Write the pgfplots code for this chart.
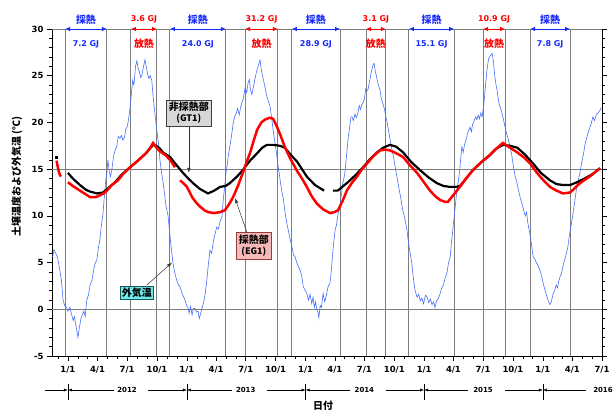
\documentclass[border=0pt]{standalone}
\usepackage{pgfplots}
\pgfplotsset{compat=1.18}
\usetikzlibrary{arrows.meta}
\usepackage{fontspec}
\setmainfont{DejaVu Sans}
\newfontfamily\jp{Noto Sans CJK JP}

\definecolor{airblue}{RGB}{70,110,250}
\definecolor{heatblue}{RGB}{20,40,255}
\definecolor{heatred}{RGB}{255,0,0}
\definecolor{gridgray}{RGB}{125,125,125}
\definecolor{boxgray}{RGB}{215,215,215}
\definecolor{boxpink}{RGB}{245,185,185}
\definecolor{boxcyan}{RGB}{110,232,232}
\definecolor{pinkedge}{RGB}{150,60,60}
\definecolor{cyanedge}{RGB}{20,90,90}

\tikzset{
  per/.style={line width=0.8pt,{Latex[length=5bp,width=4.5bp]}-{Latex[length=5bp,width=4.5bp]}},
  jplab/.style={font=\jp\bfseries\fontsize{10}{11}\selectfont},
  numlab/.style={font=\bfseries\fontsize{8}{9}\selectfont},
  yr/.style={line width=0.5pt,-{Latex[length=4bp,width=3bp]}},
  yrlab/.style={font=\bfseries\fontsize{7}{8}\selectfont},
}

\begin{document}
\begin{tikzpicture}
\useasboundingbox (-52bp,-58bp) rectangle (562bp,356bp);
\begin{axis}[
  at={(0,0)}, anchor=south west,
  scale only axis, width=550bp, height=327bp,
  xmin=-49, xmax=1643, ymin=-5, ymax=30,
  clip=false,
  axis x line*=bottom,
  ytick pos=both, yticklabel pos=left,
  tick align=outside,
  axis line style={black, line width=0.8pt},
  tick style={black, line width=0.6pt},
  major tick length=5bp, minor tick length=3bp,
  ytick={-5,0,5,10,15,20,25,30},
  minor y tick num=4,
  xtick={0,91,182,274,366,456,547,639,731,821,912,1004,1096,1186,1277,1369,1461,1552,1643},
  xticklabels={1/1,4/1,7/1,10/1,1/1,4/1,7/1,10/1,1/1,4/1,7/1,10/1,1/1,4/1,7/1,10/1,1/1,4/1,7/1},
  minor xtick={-31,31,60,121,152,213,244,305,335,397,425,486,517,578,609,670,700,762,790,851,882,943,974,1035,1065,1127,1155,1216,1247,1308,1339,1400,1430,1492,1521,1582,1613},
  tick label style={font=\bfseries\fontsize{8.5}{10}\selectfont},
  xticklabel style={yshift=-2bp},
  /pgf/number format/assume math mode=true,
  extra x ticks={-9,120,194,274,314,486,545,646,689,837,917,978,1049,1188,1277,1345,1422,1545},
  extra x tick labels={},
  extra x tick style={grid=major, major tick length=0pt, grid style={gridgray, line width=1pt}},
  extra y ticks={0,15,30},
  extra y tick labels={},
  extra y tick style={grid=major, major tick length=0pt, grid style={gridgray, line width=1pt}},
]

% outside air temperature
\addplot[airblue, line width=0.6pt] coordinates {
(-47,5.6) (-43,6.4) (-40,6.2) (-35,5.8) (-31,5.4) (-25,4.2) (-20,3.1) (-15,1.0) (-10,0.4) (-4,0.2)
(0,-0.2) (6,0.2) (11,-0.5) (16,-1.2) (20,-0.8) (25,-1.8) (31,-3.0) (35,-2.0) (40,-1.0) (44,-0.6)
(49,-0.2) (53,-0.8) (58,1.0) (63,1.5) (68,2.6) (74,3.1) (80,4.4) (85,5.0) (89,5.3) (94,6.6)
(98,7.4) (103,9.0) (108,10.3) (113,12.5) (117,14.0) (120,14.6) (123,16.0) (127,14.8) (131,14.2) (135,14.9)
(140,16.3) (145,17.0) (150,17.4) (155,18.5) (160,18.3) (165,18.6) (169,18.1) (174,18.4) (178,19.3) (182,19.5)
(186,20.2) (191,21.5) (195,23.0) (199,24.5) (203,24.0) (208,26.0) (212,26.6) (216,25.8) (220,25.4) (224,24.8)
(228,25.1) (232,25.9) (237,26.7) (241,26.0) (245,25.2) (249,24.7) (253,25.0) (258,24.5) (262,22.8) (266,21.5)
(270,20.2) (274,19.0) (279,17.6) (283,16.0) (288,14.6) (292,13.8) (297,12.4) (302,11.0) (308,10.0) (313,8.2)
(318,6.5) (323,5.0) (328,4.0) (334,3.2) (340,2.6) (345,2.4) (350,1.8) (355,1.4) (360,1.0) (365,0.4)
(369,0.2) (373,-0.4) (377,0.3) (382,-0.6) (386,0.1) (391,0.1) (395,-0.3) (400,-0.2) (404,-1.0) (408,-0.5)
(413,0.2) (418,0.8) (422,1.6) (427,3.0) (432,4.8) (437,6.3) (442,6.0) (447,7.2) (452,8.0) (458,8.8)
(463,8.6) (468,9.4) (474,9.9) (478,11.8) (482,13.0) (486,14.5) (490,15.5) (494,16.6) (498,17.4) (503,18.5)
(508,19.8) (513,20.6) (518,21.0) (522,21.5) (527,20.8) (531,21.6) (535,22.1) (540,22.6) (545,23.7) (550,23.2)
(554,24.2) (558,24.6) (562,23.4) (566,23.0) (570,23.7) (575,24.6) (580,25.4) (585,26.0) (591,26.7) (595,25.6)
(600,24.8) (606,23.8) (611,22.9) (617,22.2) (622,21.7) (627,20.4) (632,19.0) (638,17.6) (643,16.3) (648,15.0)
(653,13.8) (658,12.6) (662,12.0) (667,10.6) (672,9.5) (677,8.6) (683,7.6) (689,6.7) (694,5.8) (699,5.6)
(704,5.0) (709,4.6) (714,4.2) (719,3.6) (724,2.4) (729,2.1) (735,1.7) (740,1.0) (745,1.6) (750,0.6)
(754,1.3) (758,0.2) (762,0.8) (766,-0.1) (770,-0.4) (772,-0.9) (776,0.4) (780,0.2) (785,1.7) (790,0.8)
(795,1.5) (800,2.4) (806,2.8) (810,4.0) (815,6.2) (819,7.6) (822,8.5) (826,9.0) (831,10.2) (837,11.0)
(841,12.2) (845,13.4) (849,14.0) (852,14.6) (857,16.4) (862,18.3) (867,19.6) (871,20.6) (874,20.6) (878,20.2)
(883,20.9) (887,20.5) (892,21.0) (896,21.8) (900,21.4) (904,21.9) (908,22.1) (912,22.5) (916,23.6) (920,23.4)
(923,23.5) (927,24.2) (932,25.2) (936,25.8) (940,26.3) (942,26.3) (946,25.4) (950,24.8) (955,24.0) (960,23.5)
(964,22.6) (969,22.0) (974,21.4) (978,20.6) (982,20.0) (988,18.8) (994,17.6) (1000,16.6) (1006,15.4) (1012,14.2)
(1018,13.0) (1024,11.9) (1030,10.6) (1036,9.8) (1043,8.5) (1048,7.0) (1053,6.0) (1058,4.9) (1063,3.2) (1068,2.0)
(1074,1.3) (1079,1.6) (1084,0.9) (1089,1.2) (1094,0.6) (1100,1.5) (1105,1.3) (1110,0.7) (1115,1.1) (1120,0.5)
(1125,0.8) (1129,0.2) (1134,0.9) (1140,1.2) (1145,1.7) (1150,2.3) (1155,2.6) (1160,3.3) (1166,3.9) (1171,5.0)
(1176,5.6) (1180,7.2) (1185,8.8) (1190,10.5) (1195,12.2) (1200,13.5) (1205,14.8) (1209,16.4) (1212,17.4) (1216,16.8)
(1220,17.6) (1225,18.2) (1230,18.9) (1237,19.5) (1241,19.0) (1245,19.8) (1250,20.2) (1254,20.6) (1258,20.3) (1262,20.8)
(1266,20.4) (1270,21.0) (1274,20.6) (1279,21.8) (1284,23.7) (1289,25.6) (1294,26.8) (1299,27.1) (1305,27.4) (1309,26.5)
(1313,25.0) (1317,24.0) (1320,23.5) (1325,22.2) (1330,21.6) (1334,21.2) (1338,20.6) (1343,19.8) (1348,19.0) (1354,18.3)
(1360,17.4) (1365,16.6) (1370,15.4) (1376,14.2) (1381,13.6) (1386,12.8) (1391,12.0) (1396,11.4) (1402,10.6) (1407,10.0)
(1411,10.4) (1415,9.2) (1420,8.3) (1425,7.2) (1431,5.6) (1436,5.4) (1441,5.0) (1447,4.6) (1452,4.2) (1457,3.6)
(1462,2.8) (1468,2.0) (1474,1.3) (1478,0.9) (1483,0.5) (1487,0.8) (1492,1.6) (1498,2.1) (1502,2.6) (1506,2.3)
(1510,3.0) (1514,3.5) (1518,3.8) (1524,4.8) (1530,5.5) (1535,6.2) (1538,6.7) (1543,8.0) (1549,9.2) (1554,10.3)
(1559,11.5) (1564,12.8) (1569,13.6) (1575,14.6) (1580,15.6) (1586,16.6) (1591,17.7) (1597,18.5) (1603,19.2) (1609,19.8)
(1615,20.6) (1620,20.2) (1626,20.9) (1631,21.0) (1637,21.3) (1641,21.6)
};

% GT1 (non-extraction zone)
\addplot[black, only marks, mark=square*, mark size=1pt] coordinates {(-37,16.3)};
\addplot[black, line width=2.2pt] coordinates {
(0,14.6) (15,14.0) (37,13.3) (55,12.8) (68,12.6) (89,12.4) (108,12.5) (125,13.0) (145,13.6) (165,14.4)
(191,15.2) (215,15.9) (237,16.6) (250,17.1) (262,17.6) (272,17.5) (283,17.2) (292,16.8) (314,16.3) (330,15.6)
(354,14.6) (370,14.0) (385,13.5) (405,12.9) (431,12.4) (450,12.7) (468,13.1) (485,13.2) (498,13.5) (520,14.2)
(538,14.9) (560,15.9) (582,16.7) (598,17.3) (612,17.6) (632,17.6) (652,17.5) (667,17.3) (674,17.0) (689,16.4)
(705,15.8) (720,15.0) (735,14.2) (760,13.3) (788,12.7)
};
\addplot[black, line width=2.2pt] coordinates {
(815,12.7) (830,12.7) (858,13.5) (883,14.3) (908,15.2) (930,16.1) (951,16.8) (970,17.3) (991,17.6) (1010,17.4)
(1031,16.8) (1055,15.8) (1083,14.9) (1110,14.1) (1135,13.5) (1155,13.2) (1175,13.1) (1195,13.1) (1206,13.2) (1225,14.0)
(1246,14.9) (1270,15.7) (1298,16.5) (1318,17.2) (1338,17.6) (1360,17.5) (1382,17.3) (1405,16.6) (1431,15.6) (1455,14.6)
(1483,13.8) (1503,13.4) (1523,13.3) (1545,13.3) (1566,13.6) (1590,14.0) (1615,14.5) (1637,15.1)
};

% EG1 (extraction zone)
\addplot[heatred, line width=2.5pt] coordinates {(-35,15.9) (-31,15.2) (-27,14.6) (-22,14.2)};
\addplot[heatred, line width=2.5pt] coordinates {
(0,13.6) (15,13.2) (37,12.7) (55,12.3) (68,12.0) (85,12.0) (98,12.2) (110,12.4) (120,12.7) (135,13.3)
(154,13.8) (170,14.5) (191,15.2) (215,15.9) (243,16.8) (255,17.4) (262,17.8) (270,17.4) (283,16.9) (300,16.5)
(314,16.0) (322,15.6) (329,15.2)
};
\addplot[heatred, line width=2.5pt] coordinates {
(345,13.8) (355,13.5) (366,13.1) (375,12.5) (382,12.0) (395,11.4) (406,11.0) (420,10.6) (431,10.4) (450,10.3)
(468,10.4) (483,10.6) (495,11.2) (508,12.0) (523,13.2) (538,14.6) (550,15.8) (560,16.7) (571,18.0) (582,19.2)
(595,20.0) (606,20.3) (620,20.5) (631,20.4) (641,19.7) (652,18.8) (667,17.4) (683,16.2) (694,15.5) (705,14.8)
(720,14.0) (735,13.1) (750,12.1) (766,11.3) (785,10.7) (806,10.3) (820,10.4) (831,10.6) (845,11.6) (858,12.7)
(873,13.5) (889,14.2) (905,15.0) (920,15.6) (940,16.4) (960,17.0) (975,17.1) (991,17.0) (1010,16.7) (1031,16.3)
(1050,15.5) (1074,14.6) (1095,13.6) (1114,12.7) (1130,12.1) (1145,11.7) (1160,11.5) (1169,11.5) (1185,12.2) (1206,13.1)
(1225,14.0) (1246,14.9) (1270,15.7) (1298,16.5) (1318,17.2) (1338,17.8) (1360,17.3) (1382,16.8) (1405,16.2) (1422,15.6)
(1443,14.6) (1463,13.8) (1483,13.1) (1503,12.7) (1523,12.4) (1545,12.5) (1560,13.0) (1575,13.5) (1605,14.2) (1637,15.1)
};

% heat extraction periods
\draw[heatblue, per] (axis cs:-9,30) -- (axis cs:120,30);
\node[heatblue, jplab] at (axis cs:55.5,31.0) {採熱};
\node[heatblue, numlab] at (axis cs:55.5,28.4) {7.2 GJ};
\draw[heatblue, per] (axis cs:314,30) -- (axis cs:486,30);
\node[heatblue, jplab] at (axis cs:400,31.0) {採熱};
\node[heatblue, numlab] at (axis cs:400,28.4) {24.0 GJ};
\draw[heatblue, per] (axis cs:689,30) -- (axis cs:837,30);
\node[heatblue, jplab] at (axis cs:763,31.0) {採熱};
\node[heatblue, numlab] at (axis cs:763,28.4) {28.9 GJ};
\draw[heatblue, per] (axis cs:1049,30) -- (axis cs:1188,30);
\node[heatblue, jplab] at (axis cs:1118.5,31.0) {採熱};
\node[heatblue, numlab] at (axis cs:1118.5,28.4) {15.1 GJ};
\draw[heatblue, per] (axis cs:1422,30) -- (axis cs:1545,30);
\node[heatblue, jplab] at (axis cs:1483.5,31.0) {採熱};
\node[heatblue, numlab] at (axis cs:1483.5,28.4) {7.8 GJ};

% heat release periods
\draw[heatred, per] (axis cs:194,30) -- (axis cs:274,30);
\node[heatred, numlab] at (axis cs:234,31.0) {3.6 GJ};
\node[heatred, jplab] at (axis cs:234,28.4) {放熱};
\draw[heatred, per] (axis cs:545,30) -- (axis cs:646,30);
\node[heatred, numlab] at (axis cs:595.5,31.0) {31.2 GJ};
\node[heatred, jplab] at (axis cs:595.5,28.4) {放熱};
\draw[heatred, per] (axis cs:917,30) -- (axis cs:978,30);
\node[heatred, numlab] at (axis cs:947.5,31.0) {3.1 GJ};
\node[heatred, jplab] at (axis cs:947.5,28.4) {放熱};
\draw[heatred, per] (axis cs:1277,30) -- (axis cs:1345,30);
\node[heatred, numlab] at (axis cs:1311,31.0) {10.9 GJ};
\node[heatred, jplab] at (axis cs:1311,28.4) {放熱};

% callouts
\node[draw=black!75, fill=boxgray, line width=0.8pt, align=center, inner sep=2.5pt,
      font=\jp\bfseries\fontsize{10}{11}\selectfont] (gt) at (axis cs:372,21.0)
      {非採熱部\\{\fontsize{9}{10}\selectfont (GT1)}};
\draw[black!80, line width=0.5pt, -{Latex[length=5bp,width=3.5bp]}] (gt.south) -- (axis cs:372,14.6);
\node[draw=pinkedge, fill=boxpink, line width=0.8pt, align=center, inner sep=2.5pt,
      font=\jp\bfseries\fontsize{10}{11}\selectfont] (eg) at (axis cs:572,6.8)
      {採熱部\\{\fontsize{9}{10}\selectfont (EG1)}};
\draw[black!80, line width=0.5pt, -{Latex[length=5bp,width=3.5bp]}] (axis cs:551,8.2) -- (axis cs:514,11.9);
\node[draw=cyanedge, fill=boxcyan, line width=0.8pt, inner sep=2pt,
      font=\jp\bfseries\fontsize{10}{11}\selectfont] (oa) at (axis cs:212,1.75) {外気温};
\draw[black!80, line width=0.5pt, -{Latex[length=5bp,width=3.5bp]}] (axis cs:243,2.6) -- (axis cs:320,5.0);

% year row
\draw[yr] (axis cs:-71,-8.64) -- (axis cs:0,-8.64);
\draw[yr] (axis cs:142,-8.64) -- (axis cs:0,-8.64);
\draw[line width=0.5pt] (axis cs:0,-8.05) -- (axis cs:0,-9.75);
\draw[yr] (axis cs:246,-8.64) -- (axis cs:366,-8.64);
\draw[yr] (axis cs:505,-8.64) -- (axis cs:366,-8.64);
\draw[line width=0.5pt] (axis cs:366,-8.05) -- (axis cs:366,-9.75);
\draw[yr] (axis cs:612,-8.64) -- (axis cs:731,-8.64);
\draw[yr] (axis cs:868,-8.64) -- (axis cs:731,-8.64);
\draw[line width=0.5pt] (axis cs:731,-8.05) -- (axis cs:731,-9.75);
\draw[yr] (axis cs:978,-8.64) -- (axis cs:1096,-8.64);
\draw[yr] (axis cs:1231,-8.64) -- (axis cs:1096,-8.64);
\draw[line width=0.5pt] (axis cs:1096,-8.05) -- (axis cs:1096,-9.75);
\draw[yr] (axis cs:1345,-8.64) -- (axis cs:1461,-8.64);
\draw[yr] (axis cs:1594,-8.64) -- (axis cs:1461,-8.64);
\draw[line width=0.5pt] (axis cs:1461,-8.05) -- (axis cs:1461,-9.75);
\node[yrlab] at (axis cs:182,-8.64) {2012};
\node[yrlab] at (axis cs:547,-8.64) {2013};
\node[yrlab] at (axis cs:912,-8.64) {2014};
\node[yrlab] at (axis cs:1277,-8.64) {2015};
\node[yrlab] at (axis cs:1646,-8.64) {2016};
\node[font=\jp\bfseries\fontsize{10}{11}\selectfont] at (axis cs:785,-10.3) {日付};
\node[rotate=90, font=\jp\bfseries\fontsize{10}{11}\selectfont] at (axis cs:-157,14.2) {土壌温度および外気温 (℃)};
\end{axis}
\end{tikzpicture}
\end{document}
